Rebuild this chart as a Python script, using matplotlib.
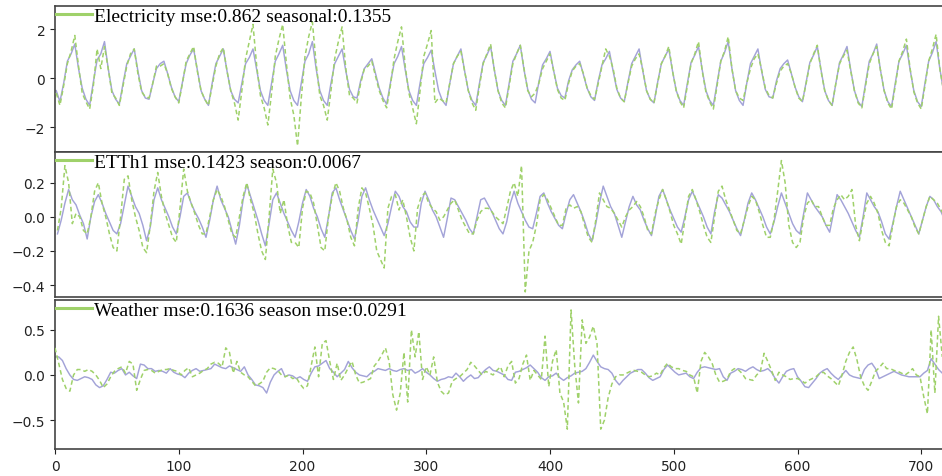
import numpy as np
import matplotlib
matplotlib.use("Agg")
import matplotlib.pyplot as plt
from matplotlib.lines import Line2D

# ---------------- data ----------------
# Electricity: samples every 3 steps starting at t=1
elec_start, step = 1, 3
elec_true = [
    -0.5, -0.95, -0.2, 0.7, 1.0, 1.4, 0.4, -0.4,
    -0.85, -1.1, -0.15, 0.75, 1.0, 1.5, 0.4, -0.5,
    -0.85, -1.05, -0.2, 0.6, 0.9, 1.2, 0.3, -0.5,
    -0.8, -0.85, -0.2, 0.4, 0.6, 0.7, 0.2, -0.35,
    -0.75, -0.95, -0.15, 0.6, 0.95, 1.2, 0.35, -0.5,
    -0.85, -1.1, -0.2, 0.6, 0.9, 1.2, 0.3, -0.5,
    -0.85, -1.0, -0.2, 0.6, 0.85, 1.2, 0.35, -0.5,
    -0.9, -1.1, -0.2, 0.7, 1.0, 1.35, 0.35, -0.5,
    -0.9, -1.1, -0.2, 0.7, 1.0, 1.5, 0.4, -0.5,
    -0.9, -1.1, -0.2, 0.6, 0.9, 1.2, 0.3, -0.45,
    -0.75, -0.8, -0.1, 0.4, 0.6, 0.8, 0.2, -0.4,
    -0.8, -1.05, -0.2, 0.6, 0.9, 1.3, 0.35, -0.5,
    -0.9, -1.1, -0.2, 0.6, 0.85, 1.15, 0.3, -0.5,
    -0.9, -1.1, -0.2, 0.6, 0.9, 1.2, 0.3, -0.5,
    -0.9, -1.1, -0.2, 0.65, 0.95, 1.3, 0.35, -0.5,
    -0.9, -1.1, -0.2, 0.7, 1.0, 1.35, 0.35, -0.45,
    -0.85, -1.0, -0.15, 0.55, 0.8, 1.1, 0.3, -0.4,
    -0.7, -0.8, -0.1, 0.35, 0.55, 0.7, 0.15, -0.4,
    -0.75, -0.9, -0.1, 0.55, 0.8, 1.1, 0.3, -0.45,
    -0.8, -0.95, -0.15, 0.6, 0.9, 1.2, 0.3, -0.5,
    -0.85, -1.0, -0.15, 0.6, 0.9, 1.2, 0.3, -0.5,
    -0.9, -1.1, -0.2, 0.65, 0.95, 1.3, 0.35, -0.5,
    -0.9, -1.1, -0.2, 0.7, 1.05, 1.5, 0.4, -0.5,
    -0.9, -1.1, -0.2, 0.6, 0.9, 1.2, 0.3, -0.45,
    -0.75, -0.8, -0.1, 0.4, 0.6, 0.75, 0.2, -0.35,
    -0.75, -0.95, -0.15, 0.65, 0.95, 1.3, 0.35, -0.5,
    -0.9, -1.1, -0.2, 0.65, 0.95, 1.3, 0.35, -0.5,
    -0.95, -1.15, -0.2, 0.7, 1.0, 1.4, 0.35, -0.5,
    -0.95, -1.15, -0.2, 0.7, 1.0, 1.35, 0.35, -0.5,
    -0.95, -1.15, -0.2, 0.7, 1.05, 1.5, 0.4, -0.5,
]
elec_pred = [
    -0.6, -1.1, -0.3, 0.6, 1.1, 1.75, 0.5, -0.6,
    -0.95, -1.25, -0.3, 1.2, 0.4, 1.3, 0.4, -0.6,
    -0.8, -1.1, -0.3, 0.5, 1.0, 1.2, 0.2, -0.55,
    -0.75, -0.8, -0.2, 0.5, 0.5, 0.6, 0.2, -0.4,
    -0.75, -1.0, -0.2, 0.7, 1.0, 1.3, 0.3, -0.5,
    -0.85, -1.1, -0.3, 0.5, 1.0, 1.25, 0.3, -0.5,
    -1.0, -1.7, -0.5, 0.8, 1.5, 2.2, 0.5, -0.7,
    -1.2, -1.9, -0.6, 0.9, 1.6, 2.2, 0.6, -0.8,
    -1.5, -2.75, -0.8, 0.9, 1.7, 2.3, 0.6, -0.7,
    -1.1, -1.7, -0.5, 0.8, 1.5, 2.1, 0.4, -0.7,
    -0.8, -1.0, -0.2, 0.4, 0.5, 0.7, 0.1, -0.5,
    -0.9, -1.2, -0.3, 0.8, 1.5, 2.1, 0.5, -0.6,
    -1.2, -1.85, -0.5, 0.9, 1.4, 1.95, -1.0, -0.8,
    -0.9, -1.0, -0.2, 0.6, 0.9, 1.1, 0.3, -0.5,
    -1.0, -1.3, -0.3, 0.6, 1.0, 1.4, 0.35, -0.5,
    -1.0, -1.2, -0.3, 0.6, 1.0, 1.35, 0.4, -0.5,
    -0.75, -0.6, -0.2, 0.4, 0.7, 1.0, 0.3, -0.45,
    -0.8, -0.9, -0.2, 0.3, 0.5, 0.6, 0.2, -0.4,
    -0.7, -0.85, -0.2, 0.5, 1.2, 0.9, 0.4, -0.4,
    -0.8, -0.95, -0.2, 0.5, 0.8, 1.0, 0.35, -0.5,
    -0.85, -1.0, -0.2, 0.6, 0.9, 1.3, 0.3, -0.5,
    -0.95, -1.2, -0.3, 0.6, 1.0, 1.5, 0.3, -0.55,
    -0.95, -1.25, -0.3, 0.7, 1.1, 1.7, 0.4, -0.5,
    -0.8, -0.9, -0.2, 0.4, 0.8, 1.0, 0.35, -0.4,
    -0.7, -0.8, -0.2, 0.3, 0.5, 0.6, 0.2, -0.35,
    -0.8, -0.95, -0.2, 0.6, 1.0, 1.35, 0.3, -0.5,
    -0.9, -1.1, -0.2, 0.6, 0.9, 1.15, 0.3, -0.5,
    -1.0, -1.2, -0.3, 0.6, 1.0, 1.3, 0.35, -0.5,
    -1.0, -1.25, -0.3, 0.7, 1.1, 1.6, 0.4, -0.55,
    -1.0, -1.25, -0.3, 0.7, 1.2, 1.8, 0.4, -0.5,
]

# ETTh1: samples every 3 steps starting at t=2
etth_start = 2
etth_true = [
    -0.1, -0.02, 0.08, 0.16, 0.1, 0.07, 0.01, -0.04,
    -0.13, 0.0, 0.09, 0.13, 0.08, 0.02, -0.03, -0.08,
    -0.1, -0.04, 0.07, 0.18, 0.12, 0.06, 0.02, -0.05,
    -0.14, -0.06, 0.1, 0.17, 0.1, 0.05, 0.0, -0.06,
    -0.1, 0.0, 0.12, 0.14, 0.08, 0.03, -0.01, -0.06,
    -0.12, -0.02, 0.1, 0.18, 0.1, 0.05, 0.0, -0.08,
    -0.16, -0.05, 0.1, 0.19, 0.12, 0.05, -0.02, -0.1,
    -0.17, -0.04, 0.1, 0.14, 0.08, 0.02, -0.03, -0.08,
    -0.12, -0.03, 0.08, 0.16, 0.12, 0.05, 0.0, -0.07,
    -0.12, 0.0, 0.14, 0.17, 0.1, 0.04, -0.02, -0.08,
    -0.13, -0.02, 0.12, 0.17, 0.1, 0.04, -0.01, -0.06,
    -0.11, -0.04, 0.06, 0.15, 0.12, 0.06, 0.03, -0.03,
    -0.06, -0.06, 0.08, 0.15, 0.1, 0.04, 0.0, -0.06,
    -0.12, -0.01, 0.11, 0.1, 0.06, 0.02, -0.02, -0.07,
    -0.1, 0.0, 0.1, 0.11, 0.07, 0.03, -0.02, -0.07,
    -0.1, -0.03, 0.08, 0.15, 0.08, 0.03, -0.02, -0.06,
    -0.07, 0.02, 0.12, 0.14, 0.08, 0.03, -0.01, -0.05,
    -0.07, 0.02, 0.1, 0.13, 0.08, 0.03, -0.03, -0.1,
    -0.14, -0.04, 0.08, 0.18, 0.12, 0.06, 0.02, -0.05,
    -0.12, -0.03, 0.06, 0.12, 0.07, 0.04, -0.02, -0.07,
    -0.11, 0.0, 0.12, 0.16, 0.1, 0.04, -0.01, -0.06,
    -0.09, 0.0, 0.1, 0.15, 0.1, 0.05, 0.0, -0.06,
    -0.1, 0.03, 0.13, 0.11, 0.07, 0.03, -0.02, -0.07,
    -0.11, -0.02, 0.08, 0.14, 0.1, 0.05, 0.0, -0.06,
    -0.1, -0.03, 0.06, 0.14, 0.08, 0.02, -0.04, -0.08,
    -0.1, 0.02, 0.14, 0.1, 0.06, 0.03, 0.0, -0.05,
    -0.09, 0.02, 0.13, 0.1, 0.06, 0.02, -0.03, -0.08,
    -0.12, 0.0, 0.14, 0.1, 0.06, 0.03, -0.03, -0.1,
    -0.13, -0.04, 0.06, 0.15, 0.1, 0.05, 0.0, -0.05,
    -0.1, -0.02, 0.06, 0.12, 0.1, 0.06, 0.03, -0.02,
]
etth_pred = [
    -0.08, 0.05, 0.3, 0.2, -0.04, 0.02, 0.0, -0.08,
    -0.1, 0.0, 0.15, 0.2, 0.08, 0.0, -0.1, -0.18,
    -0.2, 0.0, 0.22, 0.24, 0.1, 0.0, -0.08, -0.18,
    -0.21, -0.05, 0.15, 0.26, 0.12, 0.02, -0.05, -0.12,
    -0.15, 0.05, 0.28, 0.15, 0.08, 0.02, -0.05, -0.1,
    -0.1, 0.0, 0.1, 0.16, 0.12, 0.06, -0.02, -0.1,
    -0.12, 0.0, 0.12, 0.2, 0.1, 0.02, -0.1, -0.2,
    -0.25, 0.0, 0.28, 0.2, 0.02, 0.1, -0.05, -0.15,
    -0.15, -0.18, 0.05, 0.15, 0.14, 0.08, -0.05, -0.18,
    -0.2, 0.0, 0.12, 0.2, 0.15, 0.05, -0.02, -0.12,
    -0.17, 0.05, 0.17, 0.14, 0.05, -0.05, -0.2, -0.25,
    -0.3, 0.05, 0.12, 0.13, 0.04, 0.1, 0.0, -0.12,
    -0.2, 0.05, 0.12, 0.14, 0.08, 0.05, 0.03, -0.02,
    0.0, 0.04, 0.08, 0.1, 0.04, -0.02, -0.06, -0.1,
    -0.1, -0.02, 0.03, 0.05, 0.05, 0.03, 0.0, -0.02,
    -0.04, 0.05, 0.15, 0.2, 0.12, 0.3, -0.44, -0.2,
    -0.15, -0.05, 0.1, 0.13, 0.1, 0.05, 0.0, -0.05,
    -0.05, 0.05, 0.07, 0.05, 0.06, 0.03, -0.05, -0.12,
    -0.15, -0.02, 0.14, 0.1, 0.06, 0.05, 0.02, -0.02,
    -0.06, 0.0, 0.04, 0.06, 0.09, 0.06, 0.0, -0.08,
    -0.1, 0.02, 0.1, 0.16, 0.1, 0.03, -0.05, -0.1,
    -0.16, -0.02, 0.12, 0.16, 0.1, 0.03, -0.05, -0.12,
    -0.15, 0.0, 0.15, 0.18, 0.1, 0.04, -0.02, -0.08,
    -0.1, -0.02, 0.06, 0.12, 0.1, 0.03, -0.05, -0.12,
    -0.12, -0.02, 0.15, 0.33, 0.2, -0.05, -0.15, -0.18,
    -0.15, 0.0, 0.08, 0.1, 0.06, 0.06, 0.0, -0.05,
    -0.05, 0.05, 0.1, 0.13, 0.1, 0.12, 0.16, -0.05,
    -0.14, -0.02, 0.08, 0.12, 0.08, 0.02, -0.08, -0.15,
    -0.17, -0.05, 0.06, 0.1, 0.08, 0.04, 0.0, -0.06,
    -0.1, -0.02, 0.06, 0.12, 0.1, 0.08, 0.04, 0.0,
]

# Weather: samples every 3 steps starting at t=0
weat_start = 0
weat_true = [
    0.2, 0.2, 0.16, 0.07, 0.0, -0.05, -0.06, -0.04, -0.02, -0.03,
    -0.05, -0.11, -0.14, -0.12, -0.05, 0.03, 0.02, 0.05, 0.07, 0.0,
    0.03, -0.01, -0.04, 0.12, 0.11, 0.07, 0.07, 0.04, 0.05, 0.04,
    0.02, 0.07, 0.03, 0.01, 0.0, -0.03, 0.02, 0.05, 0.07, 0.04,
    0.05, 0.06, 0.07, 0.12, 0.1, 0.08, 0.07, 0.1, 0.08, 0.06,
    0.04, 0.09, 0.0, -0.05, -0.11, -0.12, -0.14, -0.2, -0.08, 0.0,
    0.04, 0.07, -0.02, 0.0, -0.01, -0.04, -0.02, -0.05, -0.07, 0.02,
    0.09, 0.1, 0.13, 0.16, 0.07, 0.03, -0.02, 0.02, 0.06, 0.15,
    0.08, 0.03, 0.0, -0.01, -0.02, 0.02, 0.04, 0.07, 0.06, 0.05,
    0.07, 0.05, 0.04, 0.06, 0.07, 0.05, 0.06, 0.02, 0.04, 0.07,
    0.03, 0.0, -0.04, -0.07, -0.05, -0.04, -0.02, -0.03, 0.02, -0.02,
    -0.07, -0.03, 0.0, -0.04, -0.03, 0.02, 0.06, 0.09, 0.05, 0.04,
    0.02, 0.0, -0.05, -0.06, 0.03, 0.04, 0.06, 0.08, 0.11, 0.07,
    0.03, -0.03, -0.06, -0.02, -0.01, 0.02, -0.03, -0.06, -0.03, -0.01,
    0.02, 0.03, 0.04, 0.07, 0.14, 0.22, 0.15, 0.09, 0.07, 0.06,
    0.02, -0.06, -0.11, -0.06, -0.02, 0.02, 0.04, 0.06, 0.06, 0.02,
    -0.03, -0.06, -0.04, -0.02, 0.06, 0.11, 0.07, 0.03, 0.0, 0.01,
    0.02, -0.02, -0.04, 0.03, 0.08, 0.09, 0.08, 0.07, 0.06, 0.07,
    -0.02, -0.06, 0.02, 0.04, 0.07, 0.06, 0.04, 0.07, 0.09, 0.06,
    0.04, 0.05, 0.07, 0.03, -0.04, -0.09, -0.02, 0.04, 0.06, 0.07,
    -0.02, -0.07, -0.13, -0.14, -0.09, -0.04, 0.02, 0.05, 0.07, 0.02,
    -0.02, -0.05, 0.0, 0.05, 0.0, -0.02, -0.03, -0.04, 0.06, 0.11,
    0.13, 0.07, -0.04, -0.02, 0.0, 0.02, 0.04, 0.02, 0.0, -0.01,
    -0.02, -0.02, -0.02, -0.02, 0.02, 0.05, 0.18, 0.12, 0.06, 0.02,
]
weat_pred = [
    0.3, 0.13, -0.05, -0.15, -0.18, 0.0, 0.06, 0.06, 0.04, 0.06,
    0.04, 0.0, -0.06, -0.14, -0.1, -0.02, 0.04, 0.07, 0.09, 0.02,
    0.15, 0.12, -0.17, -0.05, 0.05, 0.06, 0.05, 0.02, 0.04, 0.06,
    0.06, 0.07, 0.05, 0.04, 0.0, 0.05, 0.08, -0.02, 0.0, 0.02,
    0.05, 0.07, 0.12, 0.14, 0.13, 0.09, 0.3, 0.25, 0.02, 0.15,
    0.03, 0.0, -0.02, -0.07, -0.12, -0.1, -0.07, 0.03, 0.08, 0.07,
    0.05, 0.0, -0.02, 0.0, -0.04, -0.03, -0.1, -0.15, -0.12, 0.1,
    0.31, -0.02, 0.35, 0.38, 0.15, -0.05, 0.13, -0.06, 0.0, 0.08,
    0.15, 0.0, -0.09, -0.08, -0.06, -0.04, 0.1, 0.15, 0.22, 0.3,
    0.15, -0.22, -0.39, -0.2, 0.25, -0.3, 0.5, 0.2, 0.48, -0.05,
    0.09, 0.0, 0.2, -0.08, -0.18, -0.22, -0.2, -0.07, -0.04, -0.02,
    0.02, 0.06, 0.14, 0.1, 0.05, 0.0, 0.04, 0.02, 0.0, 0.05,
    0.09, -0.02, 0.1, 0.15, -0.09, -0.04, 0.12, 0.22, -0.06, 0.05,
    0.0, -0.05, 0.43, -0.13, 0.15, 0.28, -0.2, -0.3, -0.6, 0.72,
    0.1, -0.31, 0.61, 0.35, 0.42, 0.54, 0.35, -0.6, -0.5, -0.25,
    -0.1, -0.02, 0.0, 0.0, 0.02, 0.04, 0.05, 0.04, 0.03, 0.0,
    -0.02, -0.01, 0.02, 0.0, 0.08, 0.13, 0.09, 0.07, 0.07, 0.05,
    0.04, 0.0, -0.02, -0.2, 0.15, 0.25, 0.2, 0.13, 0.0, -0.08,
    -0.07, -0.05, 0.04, 0.07, 0.06, 0.02, -0.04, -0.05, -0.06, 0.0,
    0.04, 0.24, 0.15, 0.05, -0.06, 0.03, 0.0, -0.02, -0.05, -0.04,
    -0.04, -0.06, -0.09, -0.06, -0.04, -0.02, 0.02, 0.03, -0.01, -0.04,
    -0.08, -0.12, 0.0, 0.15, 0.25, 0.31, 0.17, -0.02, -0.12, -0.17,
    -0.07, 0.04, 0.08, 0.13, 0.07, 0.07, 0.05, 0.04, 0.02, 0.0,
    0.03, 0.07, 0.0, -0.02, -0.24, -0.43, 0.5, -0.2, 0.65, 0.2,
]

labels = [
    "Electricity mse:0.862 seasonal:0.1355",
    "ETTh1 mse:0.1423 season:0.0067",
    "Weather mse:0.1636 season mse:0.0291",
]
ylims = [(-3.0, 2.95), (-0.47, 0.38), (-0.82, 0.83)]
yticks = [[-2, 0, 2], [-0.4, -0.2, 0.0, 0.2], [-0.5, 0.0, 0.5]]
xticks = [0, 100, 200, 300, 400, 500, 600, 700]

series = [
    (elec_start, elec_true, elec_pred),
    (etth_start, etth_true, etth_pred),
    (weat_start, weat_true, weat_pred),
]

# ---------------- figure ----------------
W, H = 942, 477
fig = plt.figure(figsize=(W / 100, H / 100), dpi=100)

left_px = 55
xmax = 719
px_per_unit = 1.2375
right_px = left_px + xmax * px_per_unit
panels_px = [(7, 153), (153, 298), (301, 450)]

TRUE_C = "#a3a3d8"
PRED_C = "#9fd16a"

for i, ((st, yt, yp), (top, bot)) in enumerate(zip(series, panels_px)):
    ax = fig.add_axes([left_px / W, 1 - bot / H, (right_px - left_px) / W, (bot - top) / H])
    xt = st + step * np.arange(len(yt))
    xp = st + step * np.arange(len(yp))
    ax.plot(xt, yt, color=TRUE_C, lw=1.05, zorder=2)
    ax.plot(xp, yp, color=PRED_C, lw=1.1, ls=(0, (3, 2)), zorder=3)
    ax.set_xlim(0, xmax)
    ax.set_ylim(*ylims[i])
    ax.set_yticks(yticks[i])
    ax.set_xticks(xticks)
    if i < 2:
        ax.tick_params(axis="x", labelbottom=False, length=0)
    ax.tick_params(labelsize=10, colors="#222222")
    for s in ax.spines.values():
        s.set_color("#444444")
        s.set_linewidth(1.2)
    h = Line2D([0], [0], color=PRED_C, lw=2.2)
    ax.legend([h], [labels[i]], loc="upper left", frameon=False,
              prop={"family": "Liberation Serif", "size": 14},
              handlelength=1.85, handletextpad=0.1,
              borderaxespad=0.0, borderpad=0.05)

fig.savefig("out.png", dpi=100)
